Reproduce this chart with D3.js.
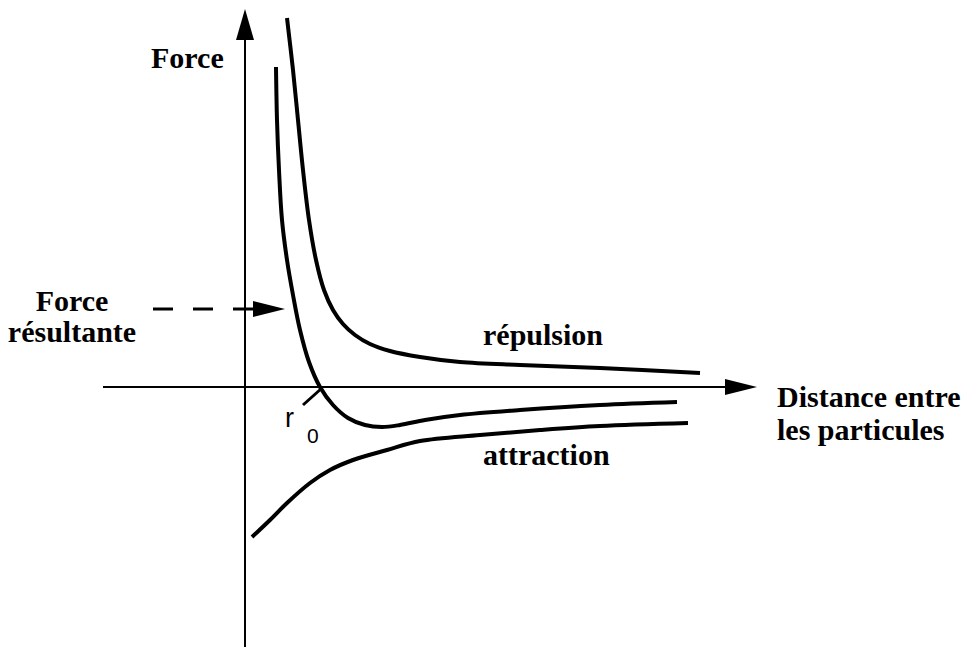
<!DOCTYPE html>
<html>
<head>
<meta charset="utf-8">
<script src="https://cdn.jsdelivr.net/npm/d3@7"></script>
<style>
  html, body { margin: 0; padding: 0; background: #fff; }
  svg { display: block; }
  .lbl { font-family: "Liberation Serif", "Times New Roman", serif; font-weight: bold; font-size: 30px; fill: #000; }
  .sym { font-family: "Liberation Sans", Arial, sans-serif; fill: #000; }
</style>
</head>
<body>
<svg id="chart" width="978" height="647"></svg>
<script>
// ---- data (distance, force) in diagram units ----
const repulsionX = [0.42, 0.48, 0.53, 0.58, 0.64, 0.71, 0.79, 0.88, 0.98, 1.10, 1.25, 1.45, 1.75, 2.15, 2.75, 3.55, 4.55];
const repulsionY = [3.69, 3.17, 2.67, 2.17, 1.67, 1.27, 0.97, 0.77, 0.63, 0.52, 0.43, 0.36, 0.30, 0.25, 0.22, 0.19, 0.14];

const resultantX = [0.31, 0.32, 0.34, 0.37, 0.42, 0.48, 0.55, 0.64, 0.75, 0.88, 1.03, 1.20, 1.37, 1.55, 1.80, 2.15, 2.75, 3.55, 4.32];
const resultantY = [3.20, 2.67, 2.17, 1.67, 1.27, 0.92, 0.57, 0.25, 0.00, -0.18, -0.31, -0.38, -0.40, -0.38, -0.33, -0.28, -0.23, -0.18, -0.15];

const attractionX = [0.07, 0.25, 0.42, 0.65, 0.85, 1.08, 1.42, 1.75, 2.35, 2.95, 3.55, 4.43];
const attractionY = [-1.50, -1.33, -1.16, -0.96, -0.83, -0.73, -0.63, -0.54, -0.48, -0.43, -0.39, -0.36];

const r0 = 0.75;                 // equilibrium distance
const xAxisExtent = [-1.42, 5.12];
const yAxisExtent = [-2.6, 3.78];
const pointerY = 0.78;           // level of the "Force résultante" pointer
const pointerExtent = [-0.92, 0.40];

const labels = {
  forceAxis: "Force",
  distanceAxis: ["Distance entre", "les particules"],
  resultant: ["Force", "résultante"],
  repulsion: "répulsion",
  attraction: "attraction",
  r: "r",
  sub: "0"
};

// ---- scales ----
const W = 978, H = 647;
const x = d3.scaleLinear().domain([0, 5]).range([245, 745]);
const y = d3.scaleLinear().domain([-2.6, 3.87]).range([H, 0]);

const svg = d3.select("#chart");
svg.append("rect").attr("width", W).attr("height", H).attr("fill", "#fff");

// ---- axes ----
const axisG = svg.append("g");
axisG.append("line")
  .attr("x1", x(0)).attr("x2", x(0))
  .attr("y1", y(yAxisExtent[0])).attr("y2", y(yAxisExtent[1]) + 20)
  .attr("stroke", "#000").attr("stroke-width", 2);
axisG.append("path")
  .attr("d", `M${x(0)},${y(yAxisExtent[1])} L${x(0) - 9},${y(yAxisExtent[1]) + 31} L${x(0) + 9},${y(yAxisExtent[1]) + 31} Z`)
  .attr("fill", "#000");

axisG.append("line")
  .attr("x1", x(xAxisExtent[0])).attr("x2", x(xAxisExtent[1]) - 20)
  .attr("y1", y(0)).attr("y2", y(0))
  .attr("stroke", "#000").attr("stroke-width", 2);
axisG.append("path")
  .attr("d", `M${x(xAxisExtent[1])},${y(0)} L${x(xAxisExtent[1]) - 32},${y(0) - 8} L${x(xAxisExtent[1]) - 32},${y(0) + 8} Z`)
  .attr("fill", "#000");

// ---- curves ----
const line = d3.line()
  .x(d => x(d[0]))
  .y(d => y(d[1]))
  .curve(d3.curveCatmullRom.alpha(0.5));

const series = [
  d3.zip(repulsionX, repulsionY),
  d3.zip(resultantX, resultantY),
  d3.zip(attractionX, attractionY)
];
svg.append("g").selectAll("path").data(series).join("path")
  .attr("d", line)
  .attr("fill", "none")
  .attr("stroke", "#000")
  .attr("stroke-width", 4)
  .attr("stroke-linejoin", "round");

// ---- r0 marker ----
svg.append("line")
  .attr("x1", x(r0) + 2).attr("y1", y(0) + 1)
  .attr("x2", x(r0) - 17).attr("y2", y(0) + 18)
  .attr("stroke", "#000").attr("stroke-width", 3);
svg.append("text").attr("class", "sym")
  .attr("x", 285).attr("y", 427).attr("font-size", 27).text(labels.r);
svg.append("text").attr("class", "sym")
  .attr("x", 307).attr("y", 443).attr("font-size", 21).text(labels.sub);

// ---- dashed pointer ----
const py = y(pointerY);
svg.append("line")
  .attr("x1", x(pointerExtent[0])).attr("x2", x(pointerExtent[1]) - 32)
  .attr("y1", py).attr("y2", py)
  .attr("stroke", "#000").attr("stroke-width", 3)
  .attr("stroke-dasharray", "20,20");
svg.append("path")
  .attr("d", `M${x(pointerExtent[1])},${py} L${x(pointerExtent[1]) - 32},${py - 8} L${x(pointerExtent[1]) - 32},${py + 8} Z`)
  .attr("fill", "#000");

// ---- labels ----
svg.append("text").attr("class", "lbl").attr("x", 151).attr("y", 68).text(labels.forceAxis);
svg.append("text").attr("class", "lbl").attr("x", 72).attr("y", 311).attr("text-anchor", "middle").text(labels.resultant[0]);
svg.append("text").attr("class", "lbl").attr("x", 72).attr("y", 342).attr("text-anchor", "middle").text(labels.resultant[1]);
svg.append("text").attr("class", "lbl").attr("x", 483).attr("y", 345).text(labels.repulsion);
svg.append("text").attr("class", "lbl").attr("x", 483).attr("y", 465).text(labels.attraction);
svg.append("text").attr("class", "lbl").attr("x", 777).attr("y", 407).text(labels.distanceAxis[0]);
svg.append("text").attr("class", "lbl").attr("x", 777).attr("y", 440).text(labels.distanceAxis[1]);
</script>
</body>
</html>
